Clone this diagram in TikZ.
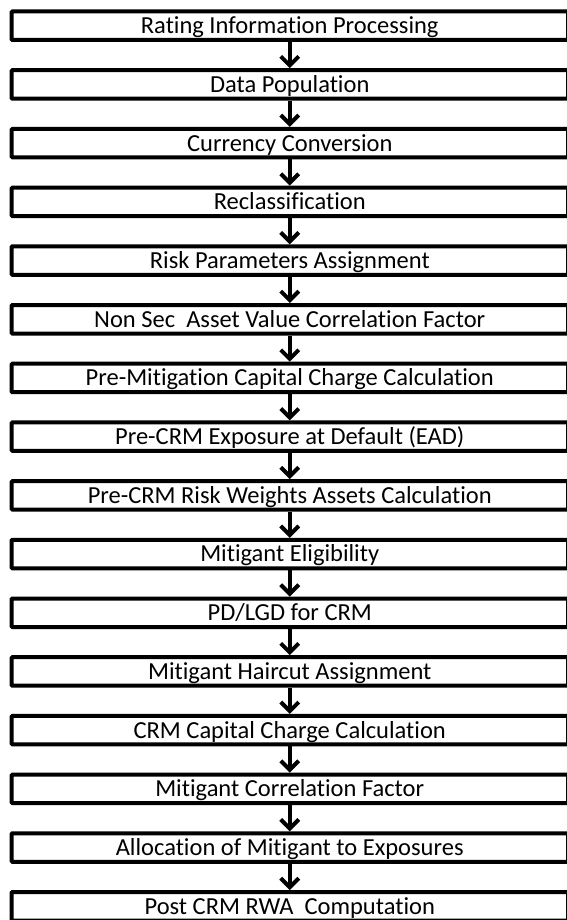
\documentclass[tikz,border=0pt]{standalone}
\usepackage{fontspec}
\setmainfont{Carlito}[Ligatures=NoCommon]
\usetikzlibrary{positioning,arrows.meta}

\tikzset{
  stagebox/.style={draw, line width=4pt, rounded corners=1pt, minimum width=556.5pt,
    minimum height=28.5pt, inner sep=0pt, text height=15.8pt, text depth=0pt,
    font=\fontsize{24.5}{28}\selectfont},
  flowarrow/.style={line width=4pt, -{Straight Barb[length=9pt,width=18pt,line width=4pt]}}
}

\begin{document}
\begin{tikzpicture}[x=1pt, y=1pt, node distance=26.2pt]
    \useasboundingbox (0,0) rectangle (566,-920);
    \node[stagebox] (rating) at (289.75,-25.75) {Rating Information Processing};
    \node[stagebox, below=of rating] (datapop) {Data Population};
    \node[stagebox, below=of datapop] (currency) {Currency Conversion};
    \node[stagebox, below=of currency] (reclass) {Reclassification};
    \node[stagebox, below=of reclass] (riskparam) {Risk Parameters Assignment};
    \node[stagebox, below=of riskparam] (nonsec) {Non Sec\ \ Asset Value Correlation Factor};
    \node[stagebox, below=of nonsec] (premit) {Pre-Mitigation Capital Charge Calculation};
    \node[stagebox, below=of premit] (preead) {Pre-CRM Exposure at Default (EAD)};
    \node[stagebox, below=of preead] (prerwa) {Pre-CRM Risk Weights Assets Calculation};
    \node[stagebox, below=of prerwa] (eligib) {Mitigant Eligibility};
    \node[stagebox, below=of eligib] (pdlgd) {PD/LGD for CRM};
    \node[stagebox, below=of pdlgd] (haircut) {Mitigant Haircut Assignment};
    \node[stagebox, below=of haircut] (crmcap) {CRM Capital Charge Calculation};
    \node[stagebox, below=of crmcap] (mitcorr) {Mitigant Correlation Factor};
    \node[stagebox, below=of mitcorr] (alloc) {Allocation of Mitigant to Exposures};
    \node[stagebox, below=of alloc] (postrwa) {Post CRM RWA\ \ Computation};

    \draw[flowarrow] (rating.south) -- (datapop.north);
    \draw[flowarrow] (datapop.south) -- (currency.north);
    \draw[flowarrow] (currency.south) -- (reclass.north);
    \draw[flowarrow] (reclass.south) -- (riskparam.north);
    \draw[flowarrow] (riskparam.south) -- (nonsec.north);
    \draw[flowarrow] (nonsec.south) -- (premit.north);
    \draw[flowarrow] (premit.south) -- (preead.north);
    \draw[flowarrow] (preead.south) -- (prerwa.north);
    \draw[flowarrow] (prerwa.south) -- (eligib.north);
    \draw[flowarrow] (eligib.south) -- (pdlgd.north);
    \draw[flowarrow] (pdlgd.south) -- (haircut.north);
    \draw[flowarrow] (haircut.south) -- (crmcap.north);
    \draw[flowarrow] (crmcap.south) -- (mitcorr.north);
    \draw[flowarrow] (mitcorr.south) -- (alloc.north);
    \draw[flowarrow] (alloc.south) -- (postrwa.north);
\end{tikzpicture}
\end{document}
